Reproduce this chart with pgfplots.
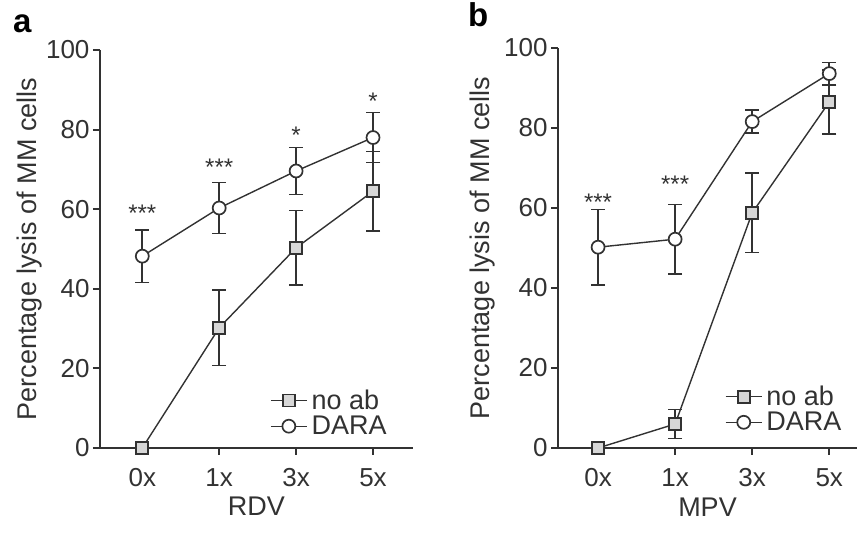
\documentclass[border=0pt]{standalone}
\usepackage{fontspec}
\setmainfont{Liberation Sans}
\usepackage{pgfplots}
\pgfplotsset{compat=1.18}

\definecolor{ink}{RGB}{50,50,50}
\definecolor{sqfill}{RGB}{215,215,215}

\pgfplotsset{
  lysis/.style={
    scale only axis,
    axis lines=left,
    axis line style={line width=1.9pt, ink, -},
    xmin=-0.55, ymin=0, ymax=100,
    xtick={0,1,2,3},
    ytick={0,20,40,60,80,100},
    tick align=outside,
    major tick length=7pt,
    tick style={line width=1.9pt, ink},
    tick label style={font=\fontsize{26}{30}\selectfont, text=ink},
    xticklabel style={yshift=-10pt},
    /pgf/number format/assume math mode=true,
    label style={font=\fontsize{27}{32}\selectfont, text=ink},
    clip=false,
    legend cell align=left,
    legend style={draw=none, fill=none, inner sep=0pt,
      font=\fontsize{27}{32}\selectfont, text=ink, column sep=2pt, row sep=1pt},
    legend image code/.code={%
      \draw[mark repeat=2, mark phase=2] plot coordinates {(0pt,0pt) (18pt,0pt) (36pt,0pt)};},
  },
  noab/.style={ink, line width=1.4pt, mark=square*, mark size=6pt,
    mark options={solid, fill=sqfill, draw=ink, line width=1.7pt},
    error bars/.cd, y dir=both, y explicit,
    error bar style={line width=1.7pt, ink},
    error mark options={rotate=90, mark size=7pt, line width=1.7pt, ink}},
  dara/.style={ink, line width=1.4pt, mark=*, mark size=6.5pt,
    mark options={solid, fill=white, draw=ink, line width=1.7pt},
    error bars/.cd, y dir=both, y explicit,
    error bar style={line width=1.7pt, ink},
    error mark options={rotate=90, mark size=7pt, line width=1.7pt, ink}},
}
\tikzset{stars/.style={anchor=north, inner sep=0pt, text=ink, font=\fontsize{24}{28}\selectfont}}

\begin{document}
\begin{tikzpicture}[x=1pt, y=1pt]
\path[use as bounding box] (0,0) rectangle (857,538);

\node[anchor=base west, inner sep=0pt, font=\bfseries\fontsize{33}{36}\selectfont] at (13,505) {a};
\node[anchor=base west, inner sep=0pt, font=\bfseries\fontsize{33}{36}\selectfont] at (468,511) {b};

% panel a
\begin{axis}[lysis,
  at={(100pt,90pt)}, anchor=south west,
  width=313pt, height=398pt,
  xmax=3.52,
  xticklabels={0x,1x,3x,5x},
  xlabel={RDV},
  ylabel={Percentage lysis of MM cells},
  xlabel style={at={(axis description cs:0.5,-0.115)}, anchor=north},
  ylabel style={at={(axis description cs:-0.224,0.5)}, anchor=center, rotate=0},
  legend style={at={(axis description cs:0.543,0.151)}, anchor=north west},
]
\addplot+[noab] coordinates {
  (0,0) +- (0,0)
  (1,30.2) +- (0,9.5)
  (2,50.3) +- (0,9.4)
  (3,64.5) +- (0,10)
};
\addlegendentry{no ab}
\addplot+[dara] coordinates {
  (0,48.2) +- (0,6.6)
  (1,60.3) +- (0,6.4)
  (2,69.6) +- (0,5.9)
  (3,78.0) +- (0,6.3)
};
\addlegendentry{DARA}
\node[stars] at (axis cs:0,61) {***};
\node[stars] at (axis cs:1,72.6) {***};
\node[stars] at (axis cs:2,80.7) {*};
\node[stars] at (axis cs:3,89.2) {*};
\end{axis}

% panel b
\begin{axis}[lysis,
  at={(558pt,90pt)}, anchor=south west,
  width=299pt, height=400pt,
  xmin=-0.52, xmax=3.36,
  xticklabels={0x,1x,3x,5x},
  xlabel={MPV},
  ylabel={Percentage lysis of MM cells},
  xlabel style={at={(axis description cs:0.5,-0.115)}, anchor=north},
  ylabel style={at={(axis description cs:-0.251,0.5)}, anchor=center, rotate=0},
  legend style={at={(axis description cs:0.558,0.16)}, anchor=north west},
]
\addplot+[noab] coordinates {
  (0,0) +- (0,0)
  (1,6.0) +- (0,3.6)
  (2,58.8) +- (0,9.9)
  (3,86.5) +- (0,8)
};
\addlegendentry{no ab}
\addplot+[dara] coordinates {
  (0,50.2) +- (0,9.4)
  (1,52.2) +- (0,8.7)
  (2,81.6) +- (0,2.9)
  (3,93.6) +- (0,2.8)
};
\addlegendentry{DARA}
\node[stars] at (axis cs:0,63.5) {***};
\node[stars] at (axis cs:1,68) {***};
\end{axis}
\end{tikzpicture}
\end{document}
